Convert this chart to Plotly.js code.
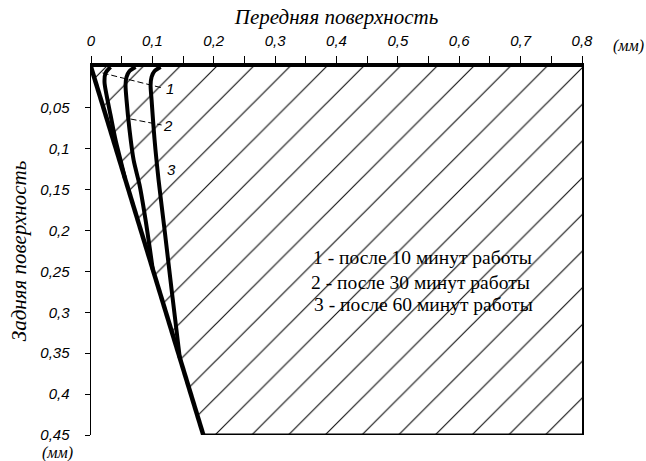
<!DOCTYPE html>
<html>
<head>
<meta charset="utf-8">
<script src="https://cdn.plot.ly/plotly-3.0.1.min.js"></script>
<style>body{margin:0;background:#fff;}#chart{width:646px;height:461px;}</style>
</head>
<body>
<div id="chart"></div>
<script>
// Flank (задняя поверхность) line: from origin to bottom
const flankX = [0, 0.183];
const flankY = [0, 0.45];

// Wear contours (mm)
const curve1X = [0.0318, 0.0237, 0.0220, 0.0253, 0.0318, 0.0400, 0.0481, 0.0552];
const curve1Y = [0, 0.0073, 0.0183, 0.0342, 0.0587, 0.0892, 0.1137, 0.1357];
const curve2X = [0.0726, 0.0628, 0.0579, 0.0563, 0.0579, 0.0628, 0.0694, 0.0791, 0.0889, 0.1008];
const curve2Y = [0, 0.0049, 0.0122, 0.0220, 0.0403, 0.0770, 0.1137, 0.1443, 0.1870, 0.2482];
const curve3X = [0.1134, 0.1036, 0.0987, 0.0971, 0.0987, 0.1036, 0.1101, 0.1199, 0.1314, 0.1447];
const curve3Y = [0, 0.0049, 0.0122, 0.0220, 0.0403, 0.0892, 0.1381, 0.1993, 0.2726, 0.3557];

// Leader lines for labels
const leader1X = [0.0188, 0.1168];
const leader1Y = [0.0073, 0.0257];
const leader2X = [0.0645, 0.1150];
const leader2Y = [0.0636, 0.0709];

const curveLabels = ["1", "2", "3"];
const curveLabelX = [0.128, 0.1248, 0.1314];
const curveLabelY = [0.0257, 0.0721, 0.1259];

const legendLines = ["1 - после 10 минут работы", "2 - после 30 минут работы", "3 - после 60 минут работы"];

const xRange = [0, 0.8];
const yRange = [0.45, 0];
const yTickVals = [0.05, 0.1, 0.15, 0.2, 0.25, 0.3, 0.35, 0.4, 0.45];

const xTitle = "Передняя поверхность";
const yTitle = "Задняя поверхность";
const unit = "(мм)";

const thick = {color: "#000", width: 4};

const traces = [
  { // hatched wear-free region
    x: [flankX[0], xRange[1], xRange[1], flankX[1], flankX[0]],
    y: [flankY[0], flankY[0], flankY[1], flankY[1], flankY[0]],
    mode: "lines", fill: "toself", line: {width: 0},
    fillcolor: "rgba(255,255,255,0)",
    fillpattern: {shape: "/", size: 25.95, solidity: 0.045, fgcolor: "#111", bgcolor: "rgba(255,255,255,0)"},
    hoverinfo: "skip"
  },
  { // bottom edge
    x: [flankX[1], xRange[1]], y: [flankY[1], flankY[1]],
    mode: "lines", line: {color: "#000", width: 3}, hoverinfo: "skip"
  },
  {x: leader1X, y: leader1Y, mode: "lines", line: {color: "#000", width: 1, dash: "6px,3px"}},
  {x: leader2X, y: leader2Y, mode: "lines", line: {color: "#000", width: 1, dash: "6px,3px"}},
  {x: flankX, y: flankY, mode: "lines", line: {color: "#000", width: 4.5}},
  {x: curve1X, y: curve1Y, mode: "lines", line: Object.assign({shape: "spline", smoothing: 0.8}, thick)},
  {x: curve2X, y: curve2Y, mode: "lines", line: Object.assign({shape: "spline", smoothing: 0.8}, thick)},
  {x: curve3X, y: curve3Y, mode: "lines", line: Object.assign({shape: "spline", smoothing: 0.8}, thick)}
];

const annotations = [];
curveLabels.forEach((t, i) => annotations.push({
  x: curveLabelX[i], y: curveLabelY[i], xref: "x", yref: "y", text: t, showarrow: false,
  font: {family: "Liberation Sans, Arial, sans-serif", size: 15, style: "italic", color: "#000"}
}));
const legendY = [0.2335, 0.263, 0.2905];
const legendX = [0.358, 0.355, 0.36];
legendLines.forEach((t, i) => annotations.push({
  x: legendX[i], y: legendY[i], xref: "x", yref: "y", text: t, showarrow: false, xanchor: "left",
  font: {family: "Liberation Serif, Times New Roman, serif", size: 19.5, color: "#000"}
}));
const unitFont = {family: "Liberation Serif, serif", size: 16, style: "italic", color: "#000"};
annotations.push({x: 628, y: 46, xref: "paper", yref: "paper", text: unit, showarrow: false,
  xanchor: "center", yanchor: "middle", font: unitFont});
annotations.push({x: 57, y: 453, xref: "paper", yref: "paper", text: unit, showarrow: false,
  xanchor: "center", yanchor: "middle", font: unitFont});

// convert pixel-positioned paper annotations
const L = 91, R = 64, T = 67, B = 26, W = 646, H = 461;
annotations.forEach(a => {
  if (a.xref === "paper") {
    a.x = (a.x - L) / (W - L - R);
    a.y = 1 - (a.y - T) / (H - T - B);
  }
});

const tickFont = {family: "Liberation Sans, Arial, sans-serif", size: 15, style: "italic", color: "#000"};
const titleFont = {family: "Liberation Serif, Times New Roman, serif", size: 21, style: "italic", color: "#000"};

const layout = {
  width: W, height: H,
  margin: {l: L, r: R, t: T, b: B, pad: 0},
  paper_bgcolor: "#fff", plot_bgcolor: "#fff",
  showlegend: false,
  separators: ", ",
  xaxis: {
    side: "top", range: xRange, dtick: 0.1, tick0: 0,
    showline: true, linewidth: 4, linecolor: "#000",
    ticks: "outside", ticklen: 7, tickwidth: 1, tickcolor: "#000",
    minor: {dtick: 0.05, ticks: "outside", ticklen: 7, tickwidth: 1, tickcolor: "#000"},
    showgrid: false, zeroline: false, tickfont: tickFont, ticklabelstandoff: 4,
    title: {text: xTitle, font: titleFont, standoff: 3},
    automargin: false, fixedrange: true
  },
  yaxis: {
    range: yRange, tickvals: yTickVals,
    showline: true, linewidth: 1.5, linecolor: "#000", mirror: true,
    ticks: "outside", ticklen: 5, tickwidth: 1, tickcolor: "#000",
    showgrid: false, zeroline: false, tickfont: tickFont, ticklabelstandoff: 12,
    title: {text: yTitle, font: titleFont, standoff: 8},
    automargin: false, fixedrange: true
  },
  annotations: annotations
};

Plotly.newPlot("chart", traces, layout, {staticPlot: true, displayModeBar: false}).then(() => {
  // align hatch phase with the original drawing
  document.querySelectorAll("#chart pattern").forEach(p => p.setAttribute("patternTransform", "translate(14.9,0)"));
});
</script>
</body>
</html>
